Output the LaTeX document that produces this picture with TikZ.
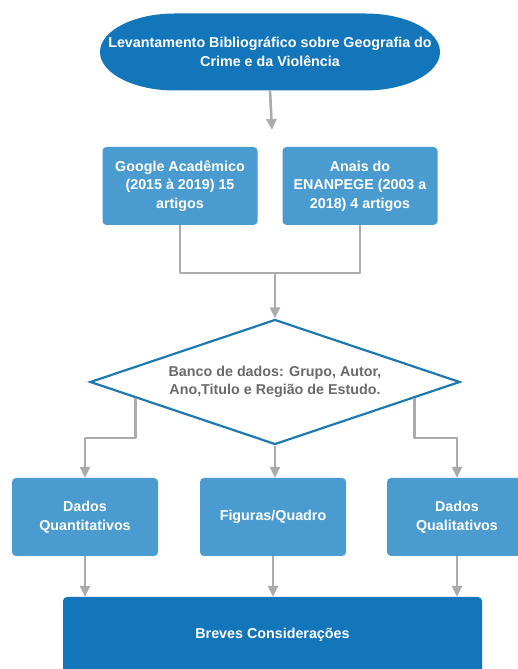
\documentclass[tikz,border=0pt]{standalone}
\usepackage{fontspec}
\setmainfont{Liberation Sans}
\usetikzlibrary{arrows.meta,shapes.geometric,calc}
\definecolor{darkblue}{HTML}{1375BA}
\definecolor{lightblue}{HTML}{4A9BD0}
\definecolor{edgeblue}{HTML}{1E79B3}
\definecolor{linegray}{HTML}{ABABAB}
\definecolor{textgray}{HTML}{6A6A6A}
\tikzset{
  boxfont/.style={font=\bfseries\fontsize{14.3}{18.5}\selectfont},
  titletext/.style={boxfont, text=white, align=center, minimum width=340pt, inner sep=0pt},
  sourcebox/.style={boxfont, rectangle, rounded corners=4pt, fill=lightblue, text=white, align=center, minimum width=155pt, minimum height=78pt, inner sep=2pt},
  resultbox/.style={sourcebox, minimum width=146pt},
  finalbox/.style={boxfont, rectangle, rounded corners=4pt, fill=darkblue, text=white, minimum width=419pt, minimum height=76pt},
  decision/.style={boxfont, diamond, draw=edgeblue, line width=2.2pt, fill=white, text=textgray, align=center, aspect=2.96, minimum width=370pt, minimum height=125pt, inner sep=0pt},
  joinline/.style={line width=2.6pt, draw=linegray, line join=round},
  flowline/.style={joinline, -{Triangle[length=11pt,width=10pt]}},
}

\begin{document}
\begin{tikzpicture}[x=1pt,y=1pt]
\useasboundingbox (0,0) rectangle (518,669);
\fill[darkblue] (175,655.5) -- (365,655.5) arc[start angle=90,end angle=-90,x radius=75,y radius=38.5]
  -- (175,578.5) arc[start angle=270,end angle=90,x radius=75,y radius=38.5] -- cycle;
\node[titletext, minimum height=77pt] (start) at (270,617) {Levantamento Bibliográfico sobre Geografia do\\Crime e da Violência};
\node[sourcebox] (google) at (180,483) {Google Acadêmico\\(2015 à 2019) 15\\artigos};
\node[sourcebox] (anais) at (360,483) {Anais do\\ENANPEGE (2003 a\\2018) 4 artigos};
\node[decision] (banco) at (275,287) {Banco de dados: Grupo, Autor,\\Ano,Titulo e Região de Estudo.};
\node[resultbox] (quant) at (85,152) {Dados\\Quantitativos};
\node[resultbox] (figuras) at (273,152) {Figuras/Quadro};
\node[resultbox, minimum width=140pt] (qualit) at (457,152) {Dados\\Qualitativos};
\node[finalbox] (breves) at (272.5,34) {Breves Considerações};
\coordinate (split) at (272,539);
\coordinate (join) at (275,396);
\draw[flowline] (start.south) -- (split);
\draw[joinline] (google.south) |- (join);
\draw[joinline] (anais.south) |- (join);
\draw[flowline] (join) -- (banco.north);
\draw[flowline] ($(banco.west)!0.25!(banco.south)$) -- ++(0,-40) -| (quant.north);
\draw[flowline] ($(banco.east)!0.25!(banco.south)$) -- ++(0,-40) -| (qualit.north);
\draw[flowline] (banco.south) -- (banco.south |- figuras.north);
\draw[flowline] (quant.south) -- (quant.south |- breves.north);
\draw[flowline] (figuras.south) -- (figuras.south |- breves.north);
\draw[flowline] (qualit.south) -- (qualit.south |- breves.north);
\end{tikzpicture}
\end{document}
